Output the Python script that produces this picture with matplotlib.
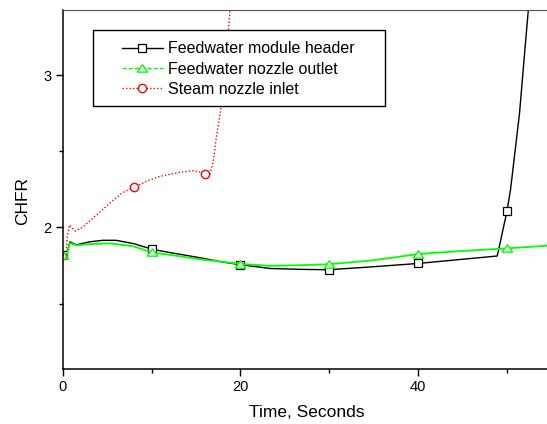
import matplotlib
matplotlib.use("Agg")
import matplotlib.pyplot as plt
from matplotlib.lines import Line2D
from matplotlib.patches import Rectangle
from matplotlib.path import Path

plt.rcParams['font.family'] = ['Liberation Sans', 'DejaVu Sans']

# Feedwater module header (black)
header_t = [0, 0.35, 0.8, 1.5, 3, 4.5, 6, 8, 10, 12, 15.5, 18, 20, 23.3, 27,
            30, 34.6, 40, 44, 48.9, 50, 50.4, 51.4, 52.4, 52.7]
header_v = [1.82, 1.80, 1.905, 1.885, 1.905, 1.915, 1.915, 1.893, 1.857, 1.835,
            1.80, 1.772, 1.755, 1.73, 1.724, 1.722, 1.74, 1.763, 1.785, 1.812,
            2.107, 2.25, 2.745, 3.43, 3.6]
header_mark_t = [0, 10, 20, 30, 40, 50]
header_mark_v = [1.82, 1.857, 1.755, 1.722, 1.763, 2.107]

# Feedwater nozzle outlet (green)
nozzle_t = [0, 0.35, 0.8, 1.5, 3, 5.3, 8, 10, 12, 15.5, 20, 23.3, 27, 30, 34.6,
            37, 40, 45, 50, 54.6]
nozzle_v = [1.82, 1.80, 1.897, 1.882, 1.89, 1.895, 1.875, 1.835, 1.82, 1.79,
            1.76, 1.747, 1.752, 1.758, 1.782, 1.80, 1.825, 1.845, 1.862, 1.88]
nozzle_mark_t = [0, 10, 20, 30, 40, 50]
nozzle_mark_v = [1.82, 1.835, 1.76, 1.758, 1.825, 1.862]

# Steam nozzle inlet (red)
steam_t = [0, 0.35, 0.5, 0.75, 1.4, 2.2, 3.4, 5.3, 6.8, 8, 9.5, 10.95, 13.2,
           14.7, 15.5, 16, 16.6, 16.95, 17.35, 17.86, 18.84, 19.1]
steam_v = [1.82, 1.80, 1.94, 2.015, 1.975, 2.0, 2.06, 2.16, 2.23, 2.262, 2.305,
           2.335, 2.362, 2.372, 2.362, 2.353, 2.355, 2.44, 2.62, 2.80, 3.43, 3.6]
steam_mark_t = [8, 16]
steam_mark_v = [2.262, 2.353]

labels = ["Feedwater module header", "Feedwater nozzle outlet", "Steam nozzle inlet"]

# flattened triangle like the original marker
tri = Path([(0, 0.7), (-1, -0.7), (1, -0.7), (0, 0.7)],
           [Path.MOVETO, Path.LINETO, Path.LINETO, Path.CLOSEPOLY])

fig = plt.figure(figsize=(5.47, 4.24), dpi=100)
ax = fig.add_axes([0.1148, 0.1297, 0.8852, 0.8467])

ax.plot(header_t, header_v, color='black', lw=1.0)
ax.plot(header_mark_t, header_mark_v, ls='none', marker='s', ms=5.5,
        mfc='white', mec='black', mew=0.9)
ax.plot(nozzle_t, nozzle_v, color='#00ff00', lw=1.3)
ax.plot(nozzle_mark_t, nozzle_mark_v, ls='none', marker=tri, ms=7.5,
        mfc='white', mec='#00ff00', mew=1.0)
ax.plot(steam_t, steam_v, color='#ff0000', lw=1.0, ls=(0, (1, 1.5)))
ax.plot(steam_mark_t, steam_mark_v, ls='none', marker='o', ms=6,
        mfc='white', mec='#ff0000', mew=1.0)

ax.set_xlim(0, 54.5)
ax.set_ylim(1.07, 3.427)
ax.set_xticks([0, 20, 40])
ax.set_xticks([10, 30, 50], minor=True)
ax.set_yticks([2, 3])
ax.set_yticks([1.5, 2.5], minor=True)
ax.tick_params(which='major', direction='out', length=5, width=1.0,
               labelsize=10.5, pad=3)
ax.tick_params(which='minor', direction='out', length=2.7, width=1.0)

ax.spines['right'].set_visible(False)
ax.spines['top'].set_color('#555555')
for s in ['left', 'bottom']:
    ax.spines[s].set_linewidth(1.1)

ax.set_xlabel("Time, Seconds", fontsize=12.5)
ax.set_ylabel("CHFR", fontsize=12.5)
ax.xaxis.set_label_coords(0.504, -0.100)
ax.yaxis.set_label_coords(-0.068, 0.468)

# legend box drawn separately to get Origin-like padding
ax.add_patch(Rectangle((0.0624, 0.7326), 0.603, 0.2117, transform=ax.transAxes,
                       facecolor='white', edgecolor='black', lw=1.0, zorder=4))
handles = [
    Line2D([], [], color='black', lw=1.0, marker='s', ms=5.5, mfc='white',
           mec='black', mew=0.9),
    Line2D([], [], color='#00ff00', lw=1.0, ls=(0, (3, 1.5)), marker=tri, ms=7.5,
           mfc='white', mec='#00ff00', mew=1.0),
    Line2D([], [], color='#ff0000', lw=1.0, ls=(0, (1, 1.5)), marker='o', ms=6,
           mfc='white', mec='#ff0000', mew=1.0),
]
leg = ax.legend(handles, labels, loc='upper left', bbox_to_anchor=(0.1223, 0.913),
                frameon=False, fontsize=11.5, borderpad=0, borderaxespad=0,
                handlelength=2.56, handletextpad=0.3, labelspacing=0.33)
leg.set_zorder(5)

fig.savefig("out.png", dpi=100)
